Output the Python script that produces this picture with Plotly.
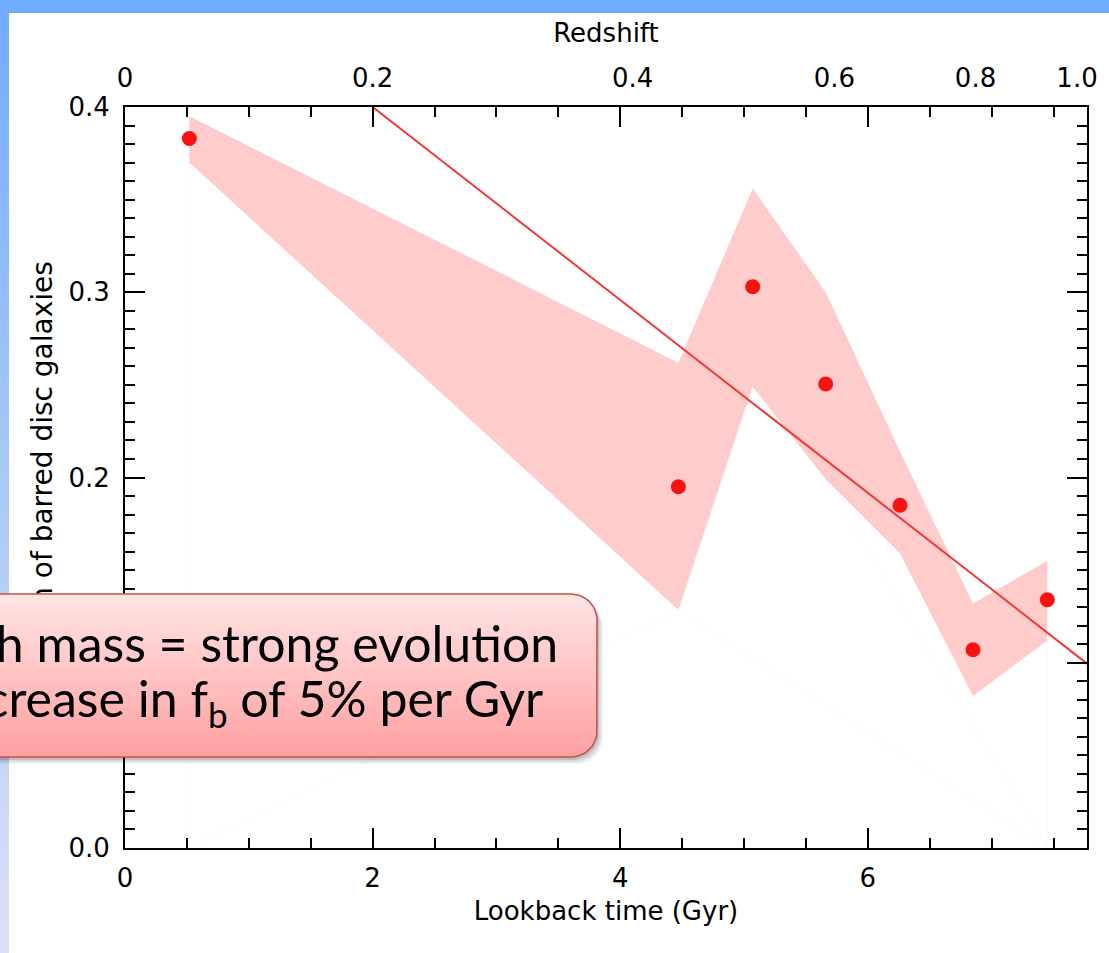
import math
import plotly.graph_objects as go

W, H = 1109, 953

# ---------------- data ----------------
lookback_gyr = [0.52, 4.47, 5.07, 5.66, 6.26, 6.85, 7.45]
bar_fraction = [0.383, 0.195, 0.303, 0.2505, 0.185, 0.107, 0.134]
band_upper = [0.395, 0.262, 0.356, 0.300, 0.214, 0.132, 0.155]
band_lower = [0.370, 0.1285, 0.249, 0.199, 0.159, 0.082, 0.112]

fit_x = [2.0, 7.9]
fit_y = [0.400, 0.0928]

lookback_ticks = [0, 2, 4, 6]
fraction_ticks = [0.0, 0.1, 0.2, 0.3, 0.4]
redshift_ticktext = ["0", "0.2", "0.4", "0.6", "0.8", "1.0"]
redshift_tickpos = [0.0, 2.0, 4.1, 5.73, 6.87, 7.69]

x_title = "Lookback time (Gyr)"
top_title = "Redshift"
y_title = "Fraction of barred disc galaxies"
callout_line1 = "High mass = strong evolution"
callout_line2 = "Increase in f<sub>b</sub> of 5% per Gyr"

# ---------------- layout geometry (pixels) ----------------
PL, PR, PT, PB = 125, 1087, 107, 848
X_MAX = (PR - PL) / 123.8
TICK_FONT = dict(family="DejaVu Sans", size=26, color="black")


def rounded_rect(x0, y0, x1, y1, r, n=12):
    xs, ys = [], []
    corners = [(x1 - r, y0 + r, -90, 0), (x1 - r, y1 - r, 0, 90),
               (x0 + r, y1 - r, 90, 180), (x0 + r, y0 + r, 180, 270)]
    for cx, cy, a0, a1 in corners:
        for i in range(n + 1):
            a = math.radians(a0 + (a1 - a0) * i / n)
            xs.append(cx + r * math.cos(a))
            ys.append(cy + r * math.sin(a))
    xs.append(xs[0])
    ys.append(ys[0])
    return xs, ys


fig = go.Figure()

# confidence band
fig.add_trace(go.Scatter(
    x=lookback_gyr + lookback_gyr[::-1],
    y=band_upper + band_lower[::-1],
    fill="toself", fillcolor="rgb(255,204,204)",
    line=dict(width=0), mode="lines", hoverinfo="skip"))

# faint polygon seams reaching down to zero
seam_x = [lookback_gyr[0], lookback_gyr[0], None,
          lookback_gyr[0], lookback_gyr[1], None,
          lookback_gyr[1], lookback_gyr[6], None,
          lookback_gyr[3], lookback_gyr[6], None,
          lookback_gyr[6], lookback_gyr[6]]
seam_y = [0, band_lower[0], None,
          0, band_lower[1], None,
          band_lower[1], 0, None,
          band_lower[3], 0, None,
          0, band_lower[6]]
fig.add_trace(go.Scatter(x=seam_x, y=seam_y, mode="lines",
                         line=dict(color="rgba(255,170,170,0.09)", width=1),
                         hoverinfo="skip"))

# linear fit
fig.add_trace(go.Scatter(x=fit_x, y=fit_y, mode="lines",
                         line=dict(color="rgb(245,55,55)", width=2),
                         hoverinfo="skip"))

# data points
fig.add_trace(go.Scatter(x=lookback_gyr, y=bar_fraction, mode="markers",
                         marker=dict(color="rgb(250,18,18)", size=15, line=dict(width=0))))

# redshift axis anchor trace (invisible)
fig.add_trace(go.Scatter(x=[0], y=[0], xaxis="x3", yaxis="y", mode="markers",
                         marker=dict(opacity=0), hoverinfo="skip"))

# ---------------- slide decorations on a full-page overlay ----------------
fig.add_trace(go.Scatter(x=[0, W, W, 0, 0], y=[0, 0, 13, 13, 0], xaxis="x2", yaxis="y2",
                         mode="lines", line=dict(width=0), fill="toself",
                         fillcolor="#6FABFF", hoverinfo="skip"))
fig.add_trace(go.Scatter(x=[0, 9, 9, 0, 0], y=[0, 0, H, H, 0], xaxis="x2", yaxis="y2",
                         mode="lines", line=dict(width=0), fill="toself",
                         fillgradient=dict(type="vertical", start=0, stop=H,
                                           colorscale=[[0, "#6FABFF"], [0.5, "#A9C9F8"], [1, "#DCE0F6"]]),
                         hoverinfo="skip"))

BX0, BY0, BX1, BY1, BR = -101, 594, 597, 757, 26
for dx, dy, a in [(6, 7, 0.06), (4, 5, 0.09), (2, 3, 0.12)]:
    sx, sy = rounded_rect(BX0 + dx, BY0 + dy, BX1 + dx, BY1 + dy, BR)
    fig.add_trace(go.Scatter(x=sx, y=sy, xaxis="x2", yaxis="y2", mode="lines",
                             line=dict(width=0), fill="toself",
                             fillcolor=f"rgba(0,0,0,{a})", hoverinfo="skip"))
bx, by = rounded_rect(BX0, BY0, BX1, BY1, BR)
fig.add_trace(go.Scatter(x=bx, y=by, xaxis="x2", yaxis="y2", mode="lines",
                         line=dict(width=1.5, color="#C4504D"), fill="toself",
                         fillgradient=dict(type="vertical", start=BY0, stop=BY1,
                                           colorscale=[[0, "#FFE5E5"], [1, "#FFA0A0"]]),
                         hoverinfo="skip"))

fig.add_annotation(x=239, y=643, xref="x2", yref="y2", text=callout_line1, showarrow=False,
                   font=dict(family="Lato", size=50, color="black"), xanchor="center", yanchor="middle")
fig.add_annotation(x=243, y=701, xref="x2", yref="y2", text=callout_line2, showarrow=False,
                   font=dict(family="Lato", size=50, color="black"), xanchor="center", yanchor="middle")

# y-axis title as a shape label (sits beneath the callout box)
fig.add_shape(type="rect", xref="paper", yref="paper",
              x0=(40 - 4) / W, x1=(40 + 4) / W, y0=1 - (480 + 4) / H, y1=1 - (480 - 4) / H,
              line=dict(width=0), fillcolor="rgba(0,0,0,0)", layer="below",
              label=dict(text=y_title, textangle=-90, textposition="middle center",
                         font=dict(family="DejaVu Sans", size=28, color="black")))

axis_common = dict(showline=True, linewidth=2, linecolor="black", mirror="ticks",
                   ticks="inside", ticklen=20, tickwidth=1.5, tickcolor="black",
                   showgrid=False, zeroline=False, tickfont=TICK_FONT, automargin=False)

fig.update_layout(
    width=W, height=H,
    margin=dict(l=0, r=0, t=0, b=0, autoexpand=False),
    paper_bgcolor="white", plot_bgcolor="rgba(0,0,0,0)", showlegend=False,
    xaxis=dict(domain=[PL / W, PR / W], range=[0, X_MAX], tickvals=lookback_ticks,
               minor=dict(dtick=0.5, tick0=0, ticks="inside", ticklen=10, tickwidth=1.5,
                          tickcolor="black", showgrid=False),
               ticklabelstandoff=6,
               title=dict(text=x_title, font=TICK_FONT, standoff=10),
               **axis_common),
    yaxis=dict(domain=[1 - PB / H, 1 - PT / H], range=[0, 0.4], tickvals=fraction_ticks,
               tickformat=".1f",
               minor=dict(dtick=0.01, tick0=0, ticks="inside", ticklen=10, tickwidth=1.5,
                          tickcolor="black", showgrid=False),
               ticklabelstandoff=8,
               **axis_common),
    xaxis3=dict(overlaying="x", side="top", anchor="y", range=[0, X_MAX],
                tickvals=redshift_tickpos, ticktext=redshift_ticktext, ticks="",
                showline=False, showgrid=False, zeroline=False, tickfont=TICK_FONT,
                ticklabelstandoff=14, automargin=False,
                title=dict(text=top_title, font=TICK_FONT, standoff=12)),
    xaxis2=dict(domain=[0, 1], range=[0, W], visible=False, anchor="y2", fixedrange=True),
    yaxis2=dict(domain=[0, 1], range=[H, 0], visible=False, anchor="x2", fixedrange=True),
)

fig.write_html("out.html")
